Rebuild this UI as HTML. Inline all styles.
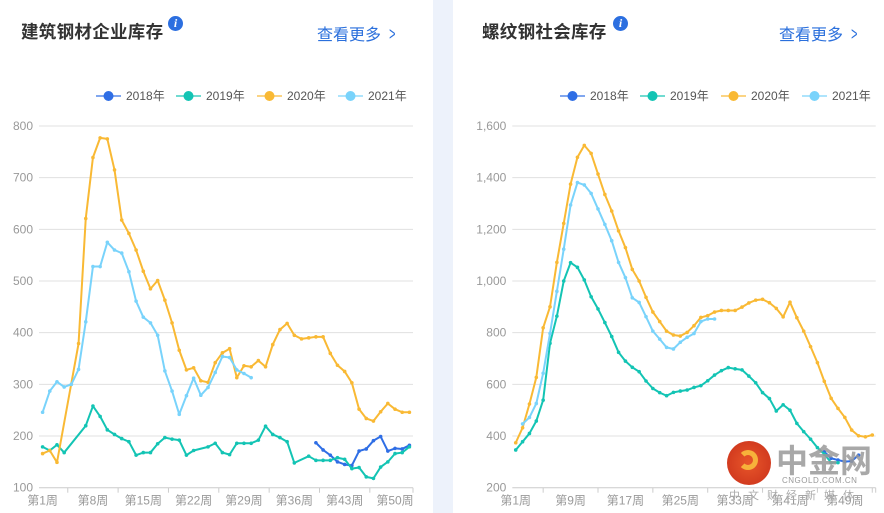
<!DOCTYPE html>
<html><head><meta charset="utf-8">
<style>
body{margin:0;width:884px;height:513px;overflow:hidden;background:#fff;font-family:"Liberation Sans","Noto Sans CJK SC",sans-serif;}
#gap{position:absolute;left:433px;top:0;width:20px;height:513px;background:#edf2fb;}
.title{position:absolute;top:19px;font-size:17.5px;font-weight:bold;color:#333;letter-spacing:0.3px}
.info{position:absolute;top:16px;width:15px;height:15px;border-radius:50%;background:#2c6fe0;color:#fff;font:italic bold 12px "Liberation Serif",serif;text-align:center;line-height:15px}
.more{position:absolute;top:21px;font-size:16px;color:#2a6fdc}
.more span{display:inline-block;margin-left:6px;transform:scaleX(0.6);font-size:18px}
svg{position:absolute;left:0;top:0}
#wm{position:absolute;left:726px;top:440px;width:158px;height:70px;white-space:nowrap}
#wm div{white-space:nowrap}
</style></head><body>
<div id="gap"></div>
<div class="title" style="left:21px">建筑钢材企业库存</div>
<div class="info" style="left:168px">i</div>
<div class="more" style="left:317px">查看更多<span>&gt;</span></div>
<div class="title" style="left:482px">螺纹钢社会库存</div>
<div class="info" style="left:613px">i</div>
<div class="more" style="left:779px">查看更多<span>&gt;</span></div>
<svg id="svg" width="884" height="513"></svg>
<div id="wm">
  <div style="position:absolute;left:1px;top:1px;width:44px;height:44px;border-radius:50%;background:radial-gradient(circle at 50% 50%,#e8562a,#c9301a);"></div>
  <div style="position:absolute;left:12px;top:10px;width:20px;height:20px;border-radius:50%;border:5px solid #f7b23a;border-left-color:transparent;box-sizing:border-box"></div>
  <div style="position:absolute;left:50px;top:-4px;font-size:32px;font-weight:bold;color:#999;opacity:0.85;letter-spacing:0px">中金网</div>
  <div style="position:absolute;left:56px;top:36px;font-size:8px;color:#999;letter-spacing:0.5px">CNGOLD.COM.CN</div>
  <div style="position:absolute;left:3px;top:47px;font-size:11px;color:#aaa;letter-spacing:8px">中文财经新媒体</div>
</div>
<script>
const years=["2018年","2019年","2020年","2021年"];
const colors=["#2f6ee5","#13c4b4","#f9b934","#79d3fb"];
const N=null;
const leftTicks=[100,200,300,400,500,600,700,800];
const leftLabels=["第1周","第8周","第15周","第22周","第29周","第36周","第43周","第50周"];
const left2018=[N,N,N,N,N,N,N,N,N,N,N,N,N,N,N,N,N,N,N,N,N,N,N,N,N,N,N,N,N,N,N,N,N,N,N,N,N,N,187,173,163,150,145,143,171,175,191,199,171,176,175,182];
const left2019=[179,172,183,168,N,N,220,258,238,212,203,195,189,163,168,168,185,197,194,192,163,172,N,179,186,168,164,186,186,186,192,219,203,197,189,148,N,161,153,153,153,158,155,137,139,121,118,140,150,166,168,179];
const left2020=[166,172,149,N,N,379,621,739,777,775,715,618,592,560,519,485,501,463,419,366,328,332,307,304,342,361,369,313,336,334,346,334,377,406,418,395,388,390,392,392,360,337,325,303,252,234,229,247,263,252,246,246];
const left2021=[246,287,305,295,300,329,421,528,528,575,560,554,518,461,430,419,395,326,287,242,278,312,279,294,323,354,352,328,321,313];
const rightTicks=[200,400,600,800,1000,1200,1400,1600];
const rightLabels=["第1周","第9周","第17周","第25周","第33周","第41周","第49周"];
const right2018=[N,N,N,N,N,N,N,N,N,N,N,N,N,N,N,N,N,N,N,N,N,N,N,N,N,N,N,N,N,N,N,N,N,N,N,N,N,N,N,N,N,N,N,N,N,339,314,307,301,303,326];
const right2019=[346,378,410,458,539,759,864,1000,1071,1053,1004,939,892,839,785,724,690,666,649,613,584,568,556,569,574,578,588,595,614,636,653,665,660,656,632,606,568,545,497,521,500,449,417,388,355,330,297,297];
const right2020=[374,432,524,627,819,900,1072,1223,1375,1479,1525,1494,1414,1335,1271,1194,1129,1045,1000,937,880,843,806,791,787,801,827,859,866,880,886,886,886,899,915,926,929,916,894,861,918,858,806,746,684,612,546,507,472,423,401,397,404];
const right2021=[N,447,472,526,643,797,960,1123,1294,1381,1372,1339,1279,1219,1156,1072,1013,935,917,862,806,775,743,737,763,782,797,843,853,853];
const NS="http://www.w3.org/2000/svg";
const svg=document.getElementById('svg');
function mk(t,a,p){const e=document.createElementNS(NS,t);for(const k in a)e.setAttribute(k,a[k]);(p||svg).appendChild(e);return e;}
function fmt(v){return v.toLocaleString('en-US');}
function chart(o){
  const g=mk('g',{});
  
  
  const x0=o.x0,x1=o.x1,yT=126,yB=487.7,n=o.n,w=(x1-x0)/n;
  const ymin=o.ticks[0],ymax=o.ticks[o.ticks.length-1];
  const ys=v=>yB-(v-ymin)/(ymax-ymin)*(yB-yT);
  const xs=i=>x0+(i+0.5)*w;
  o.ticks.forEach(t=>{
    if(t!==ymin){const l=mk('line',{x1:x0,x2:x1,y1:ys(t),y2:ys(t),stroke:'#e0e0e0','stroke-width':1},g);
    
    }
    const tx=mk('text',{x:x0-6,y:ys(t)+4,'text-anchor':'end','font-size':12,fill:'#999'},g);
    
    
    tx.textContent=fmt(t);
  });
  const ax=mk('line',{x1:x0,x2:x1,y1:yB,y2:yB,stroke:'#ccc'},g);
  
  
  for(let k=o.tickStart;k<=n;k+=o.step){
    const tx=x0+Math.min(k,n)*w;
    mk('line',{x1:tx,x2:tx,y1:yB,y2:yB+5,stroke:'#ccc'},g);
  }
  mk('line',{x1:x1,x2:x1,y1:yB,y2:yB+5,stroke:'#ccc'},g);
  o.labels.forEach((lb,j)=>{
    const t=mk('text',{x:xs(j*o.step),y:yB+17,'text-anchor':'middle','font-size':12,fill:'#999'},g);
    
    
    t.textContent=lb;
  });
  o.series.forEach((s,si)=>{
    const pts=[];s.forEach((v,i)=>{if(v!==null)pts.push([xs(i),ys(v)]);});
    const p=mk('polyline',{points:pts.map(p=>p.join(',')).join(' '),fill:'none',stroke:colors[si],'stroke-width':2,'stroke-linejoin':'round'},g);
    
    
    pts.forEach(q=>{mk('circle',{cx:q[0],cy:q[1],r:1.8,fill:colors[si]},g);});
  });
  const lx=[96,176,257,338];
  years.forEach((y,i)=>{
    const X=lx[i]+o.lo;
    const lg=mk('g',{},g);
    
    
    mk('line',{x1:X,x2:X+25,y1:96,y2:96,stroke:colors[i],'stroke-width':2,opacity:0.6},lg);
    mk('circle',{cx:X+12.5,cy:96,r:5,fill:colors[i]},lg);
    const t=mk('text',{x:X+30,y:100,'font-size':12,fill:'#555'},lg);
    t.textContent=y;
  });
}
chart({name:'left-chart',x0:39,x1:413,n:52,ticks:leftTicks,labels:leftLabels,step:7,tickStart:4,lo:0,series:[left2018,left2019,left2020,left2021]});
chart({name:'right-chart',x0:512.3,x1:875.7,n:53,ticks:rightTicks,labels:rightLabels,step:8,tickStart:4.5,lo:464,series:[right2018,right2019,right2020,right2021]});
</script>
</body></html>
